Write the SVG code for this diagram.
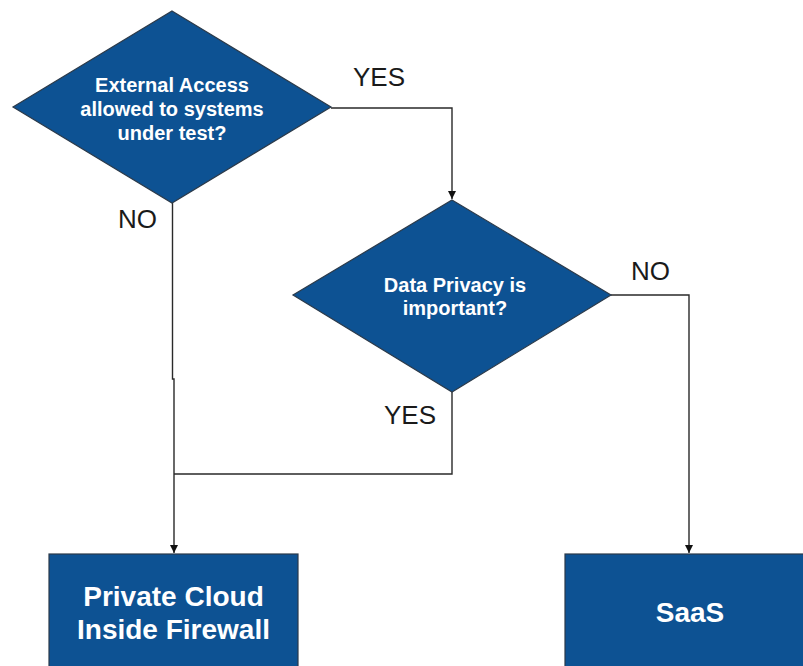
<svg xmlns="http://www.w3.org/2000/svg" width="803" height="666" viewBox="0 0 803 666">
<style>
.shape{fill:#0d5293;stroke:#2b3a4a;stroke-width:1.2}
.ntext{fill:#ffffff;font-family:"Liberation Sans",Arial,sans-serif;font-weight:bold;text-anchor:middle}
.lbl{fill:#1a1a1a;font-family:"Liberation Sans",Arial,sans-serif;font-size:26px}
.conn{fill:none;stroke:#2a2a2a;stroke-width:1.4}
</style>
<defs>
<marker id="arr" viewBox="0 0 10 10" refX="10" refY="5" markerWidth="8" markerHeight="8" markerUnits="userSpaceOnUse" orient="auto">
<path d="M0,0 L10,5 L0,10 Z" fill="#111"/>
</marker>
</defs>
<rect width="803" height="666" fill="#ffffff"/>
<g id="connectors">
<polyline class="conn" points="331,108 452,108 452,199" marker-end="url(#arr)"/>
<polyline class="conn" points="172.5,203 172.5,379 174,379 174,553" marker-end="url(#arr)"/>
<polyline class="conn" points="452,392 452,474 174,474"/>
<polyline class="conn" points="611,295 689,295 689,553" marker-end="url(#arr)"/>
</g>
<g id="labels">
<text class="lbl" x="353" y="86">YES</text>
<text class="lbl" x="118" y="228">NO</text>
<text class="lbl" x="631" y="280">NO</text>
<text class="lbl" x="384" y="424">YES</text>
</g>
<g id="node-external-access">
<polygon class="shape" points="172,11 331,107 172,203 13,107"/>
<text class="ntext" font-size="20" x="172" y="92">External Access</text>
<text class="ntext" font-size="20" x="172" y="116">allowed to systems</text>
<text class="ntext" font-size="20" x="172" y="140">under test?</text>
</g>
<g id="node-data-privacy">
<polygon class="shape" points="452,200 611,295 452,392 293,295"/>
<text class="ntext" font-size="20" x="455" y="292">Data Privacy is</text>
<text class="ntext" font-size="20" x="455" y="315">important?</text>
</g>
<g id="node-private-cloud">
<rect class="shape" x="49" y="554" width="249" height="120"/>
<text class="ntext" font-size="28" x="173.5" y="606">Private Cloud</text>
<text class="ntext" font-size="28" x="173.5" y="639">Inside Firewall</text>
</g>
<g id="node-saas">
<rect class="shape" x="565" y="554" width="250" height="120"/>
<text class="ntext" font-size="28" x="690" y="622">SaaS</text>
</g>
</svg>
